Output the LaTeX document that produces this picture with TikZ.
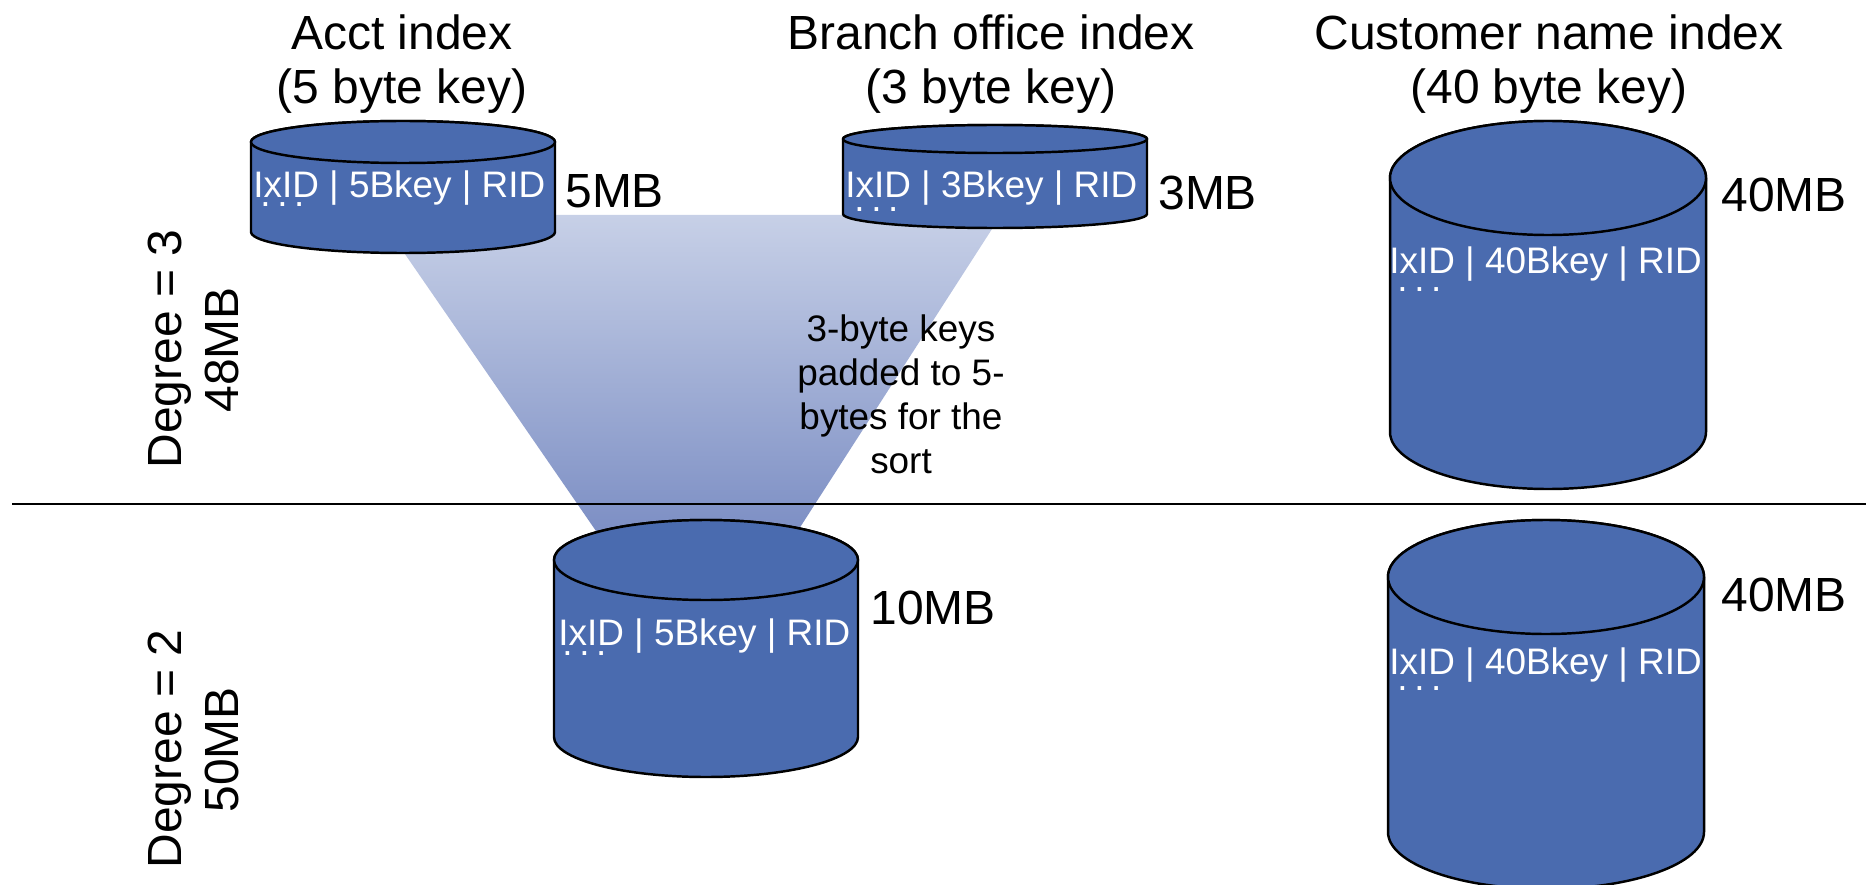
\documentclass[tikz,border=0pt]{standalone}
\usepackage{fontspec}
\setmainfont{Liberation Sans}
\definecolor{cylblue}{RGB}{74,107,175}
\definecolor{padtop}{RGB}{199,208,231}
\definecolor{padbot}{RGB}{118,137,193}
\newcommand\labelfont{\fontsize{27.3}{30.7}\selectfont}
\newcommand\keyfont{\fontsize{21}{25}\selectfont}
% cylinder: centre x, top-ellipse y, bottom-ellipse y, x radius, y radius
\newcommand\drawcyl[5]{%
  \filldraw[cyl] (#1-#4,#2) -- (#1-#4,#3)
    arc[start angle=180,end angle=360,x radius=#4,y radius=#5]
    -- (#1+#4,#2)
    arc[start angle=0,end angle=180,x radius=#4,y radius=#5] -- cycle;
  \filldraw[cyl] (#1,#2) ellipse[x radius=#4,y radius=#5];}
\begin{document}
\begin{tikzpicture}[x=0.02cm,y=0.02cm,
  cyl/.style={fill=cylblue,draw=black,line width=1.4pt,line join=round},
  lbl/.style={font=\labelfont,text=black,inner sep=0pt},
  keytext/.style={font=\keyfont,text=black,inner sep=0pt},
  rec/.style={font=\keyfont,text=white,inner sep=0pt,anchor=base west},
  size/.style={font=\labelfont,text=black,inner sep=0pt,anchor=base west}]
\useasboundingbox (0,0) rectangle (1872,-885);

% padding funnel from the two small indexes into the merged index
\shade[top color=padtop,bottom color=padbot]
  (378,-215) -- (1001,-215) -- (779,-560) -- (616,-560) -- cycle;

% separator between the two configurations
\coordinate (sepL) at (12,-504);
\coordinate (sepR) at (1866,-504);
\draw[line width=1.1pt] (sepL) -- (sepR);

% column titles
\node[lbl,anchor=base] (acctTitle) at (402,-50) {Acct index};
\node[lbl,anchor=base] (acctKey) at (402,-104) {(5 byte key)};
\node[lbl,anchor=base] (branchTitle) at (991,-50) {Branch office index};
\node[lbl,anchor=base] (branchKey) at (991,-104) {(3 byte key)};
\node[lbl,anchor=base] (custTitle) at (1549,-50) {Customer name index};
\node[lbl,anchor=base] (custKey) at (1549,-104) {(40 byte key)};

% degree 3 row
\drawcyl{403}{-142}{-232}{152}{21}
\node[rec] (acctRec) at (253,-198) {IxID | 5Bkey | RID};
\node[rec] (acctDots) at (260,-207) {.\hspace{3.8pt}.\hspace{3.8pt}.};
\node[size] (acctSize) at (565,-208) {5MB};

\drawcyl{995}{-139}{-214}{152}{14}
\node[rec] (branchRec) at (845,-197) {IxID | 3Bkey | RID};
\node[rec] (branchDots) at (854,-212) {.\hspace{3.8pt}.\hspace{3.8pt}.};
\node[size] (branchSize) at (1158,-210) {3MB};

\drawcyl{1548}{-178}{-432}{158}{57}
\node[rec] (custRecA) at (1389,-274) {IxID | 40Bkey | RID};
\node[rec] (custDotsA) at (1397,-291) {.\hspace{3.8pt}.\hspace{3.8pt}.};
\node[size] (custSizeA) at (1721,-212) {40MB};

\node[keytext,align=center] (padNote) at (901,-394)
  {3-byte keys\\padded to 5-\\bytes for the\\sort};

\node[lbl,rotate=90,anchor=base] (degA) at (181,-349) {Degree = 3};
\node[lbl,rotate=90,anchor=base] (degAsize) at (238,-350) {48MB};

% degree 2 row
\drawcyl{706}{-560}{-737}{152}{40}
\node[rec] (mergedRec) at (558,-645) {IxID | 5Bkey | RID};
\node[rec] (mergedDots) at (562,-655) {.\hspace{3.8pt}.\hspace{3.8pt}.};
\node[size] (mergedSize) at (870,-624) {10MB};

\drawcyl{1546}{-577}{-832}{158}{57}
\node[rec] (custRecB) at (1389,-674) {IxID | 40Bkey | RID};
\node[rec] (custDotsB) at (1397,-690) {.\hspace{3.8pt}.\hspace{3.8pt}.};
\node[size] (custSizeB) at (1721,-611) {40MB};

\node[lbl,rotate=90,anchor=base] (degB) at (181,-749) {Degree = 2};
\node[lbl,rotate=90,anchor=base] (degBsize) at (238,-750) {50MB};
\end{tikzpicture}
\end{document}
